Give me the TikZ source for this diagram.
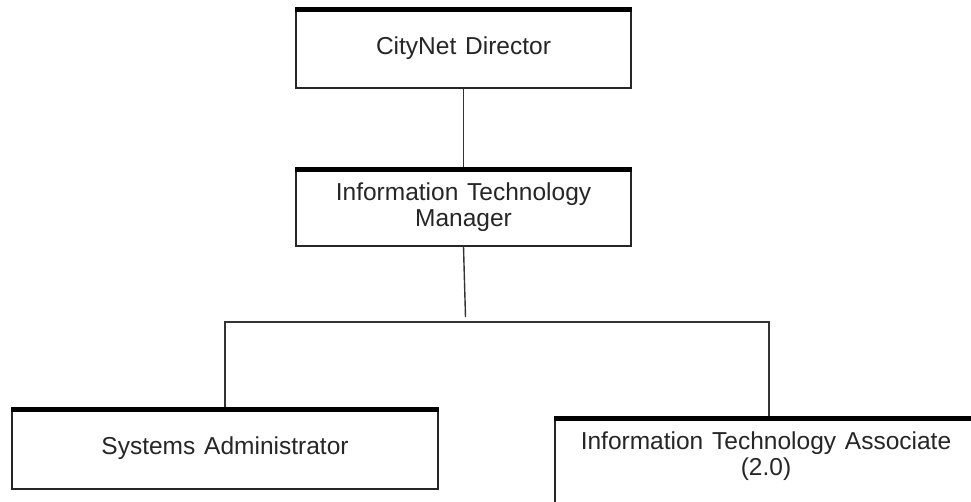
\documentclass[tikz,border=0pt]{standalone}
\usepackage{fontspec}
\setmainfont{Liberation Sans}[WordSpace=1.3]
\newcommand{\orgfont}{\fontsize{24.5}{26}\selectfont}
\begin{document}
\begin{tikzpicture}[x=1pt,y=-1pt,
  txt/.style={text=black!85, font=\orgfont},
  orgbox/.style={draw=black!85, line width=1.4pt, fill=white, rectangle, inner sep=0pt,
    align=center, txt},
  link/.style={draw=black!80, line width=1.4pt},
  bar/.style={draw=black, line width=5pt}]
\clip (0,0) rectangle (971,501);
\fill[white] (0,0) rectangle (971,501);
% boxes
\node[orgbox, minimum width=335pt, minimum height=80pt] (dir) at (463.5,48) {CityNet Director};
\node[orgbox, minimum width=335pt, minimum height=78pt] (mgr) at (463.5,207) {Information Technology\\Manager};
\node[orgbox, minimum width=426pt, minimum height=81pt] (sys) at (225,448.5) {Systems Administrator};
\node[orgbox, minimum width=428pt, minimum height=100pt] (ita) at (769,467) {};
\node[txt, align=center, inner sep=0pt] (itatext) at (766,456) {Information Technology Associate\\(2.0)};
% thick top bars
\foreach \n in {dir,mgr,sys,ita}{
  \draw[bar] ([yshift=-2.5pt]\n.north west) -- ([yshift=-2.5pt]\n.north east);
}
% connectors
\coordinate (drop) at (465.5,317);
\coordinate (hl) at (225,322);
\coordinate (hr) at (769,322);
\draw[link] (dir.south) -- (mgr.north);
\draw[link] (mgr.south) -- (drop);
\draw[link] (sys.north) -- (hl) -- (hr) -- (ita.north);
\end{tikzpicture}
\end{document}
